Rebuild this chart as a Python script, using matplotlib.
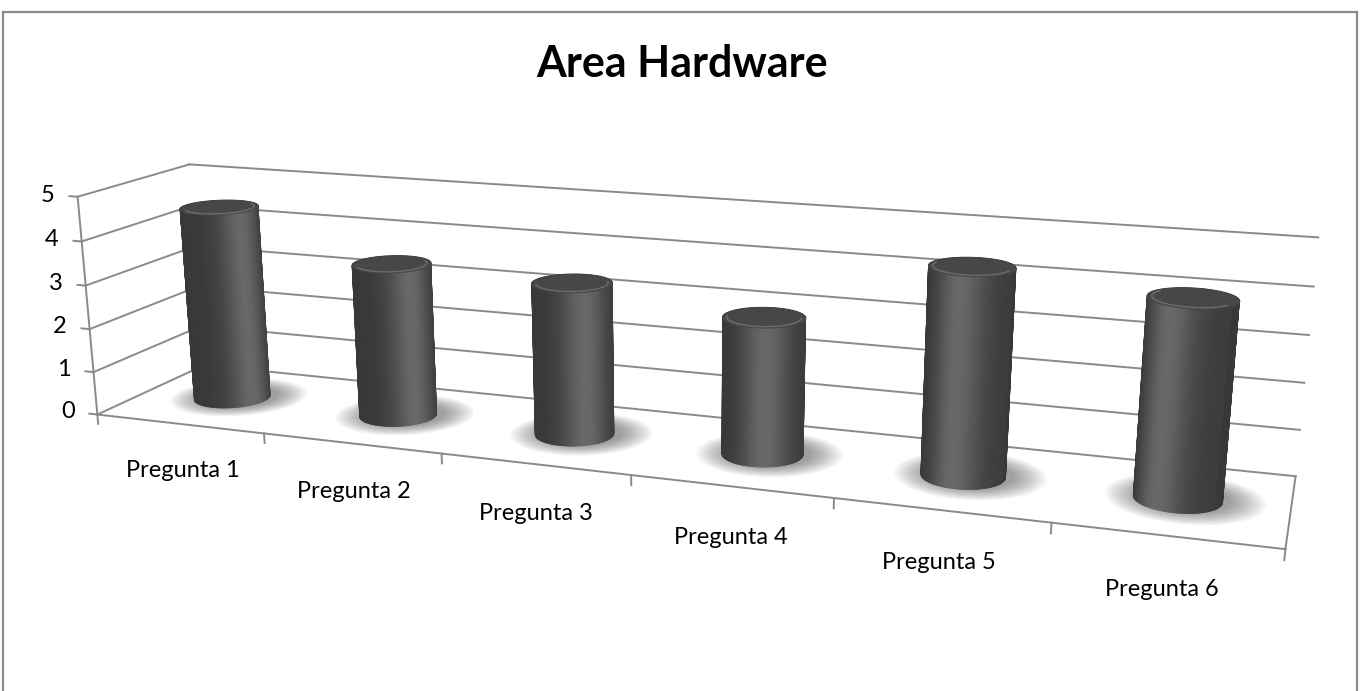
import numpy as np
import matplotlib.pyplot as plt
from matplotlib.patches import Rectangle
from mpl_toolkits.mplot3d.art3d import Poly3DCollection

categories = ['Pregunta 1', 'Pregunta 2', 'Pregunta 3', 'Pregunta 4', 'Pregunta 5', 'Pregunta 6']
values = [4.5, 3.5, 3.4, 3.0, 4.4, 4.1]
value_ticks = [0, 1, 2, 3, 4, 5]
title = 'Area Hardware'

plt.rcParams['font.family'] = ['Lato', 'DejaVu Sans']

GRID = '#8a8a8a'
DEPTH = 1.02     # floor depth, in category widths
HEIGHT = 1.16    # wall height (0..5), in category widths
RADIUS = 0.2     # cylinder radius, in category widths
ELEV, AZIM, FOCAL = 16.6, -70.9, 0.2809

n = len(categories)
zmax = value_ticks[-1]
# the camera aims at the box centre, so pad the limits to move it
# slightly right of and below the middle of the chart
xlim = (0, n + 0.2)
zlim = (-2.8, zmax)

fig = plt.figure(figsize=(13.65, 6.91), dpi=100)
ax = fig.add_axes([0.0211, -0.5254, 0.9374, 1.8518], projection='3d',
                  computed_zorder=False)
aspect = np.array([xlim[1] - xlim[0], DEPTH,
                   HEIGHT * (zlim[1] - zlim[0]) / zmax])
ax.set_box_aspect(aspect)
ax.set_proj_type('persp', focal_length=FOCAL)
ax.view_init(elev=ELEV, azim=AZIM)
ax.set_xlim(*xlim)
ax.set_ylim(0, 1)
ax.set_zlim(*zlim)
ax.set_axis_off()

# camera position in category units, used only for shading the cylinders
k = 1.8294640721620434 * 25 / 24 / np.linalg.norm(aspect)
dist = 10 * FOCAL / k
e, a = np.radians(ELEV), np.radians(AZIM)
cam_x = np.mean(xlim) + dist * np.cos(e) * np.cos(a)
cam_y = DEPTH / 2 + dist * np.cos(e) * np.sin(a)

line = dict(color=GRID, lw=1.4, zorder=1, clip_on=False)

# back wall and side wall gridlines, value axis with its ticks
for t in value_ticks:
    ax.plot([0, n], [1, 1], [t, t], **line)
    ax.plot([0, 0], [0, 1], [t, t], **line)
    ax.plot([0, -0.05], [0, 0], [t, t], **line)
    ax.text(-0.14, 0, t, str(t), ha='right', va='center', fontsize=17)
ax.plot([0, 0], [0, 0], [0, zmax], **line)

# floor outline and category ticks
ax.plot([0, n], [0, 0], [0, 0], **line)
ax.plot([n, n], [0, 1], [0, 0], **line)
for i in range(n + 1):
    ax.plot([i, i], [0, 0], [0, -0.22], **line)


def shade(sx):
    return 0.22 + 0.19 * np.exp(-((sx - 0.15) / 0.55) ** 2)


phi = np.linspace(0, 2 * np.pi, 97)
ry = RADIUS / DEPTH
for i, (label, v) in enumerate(zip(categories, values)):
    cx, cy = i + 0.5, 0.5
    xs = cx + RADIUS * np.cos(phi)
    ys = cy + ry * np.sin(phi)

    # soft shadow on the floor
    for s in np.linspace(1.8, 1.05, 10):
        sh = [list(zip(cx + 0.03 + s * RADIUS * np.cos(phi),
                       cy + 0.02 + s * ry * np.sin(phi),
                       np.zeros_like(phi)))]
        ax.add_collection3d(Poly3DCollection(sh, facecolor=(0, 0, 0, 0.045),
                                             edgecolor='none', zorder=2))

    # side of the cylinder, one quad per slice
    view = np.arctan2(cam_y - cy * DEPTH, cam_x - cx)
    quads, cols = [], []
    for j in range(len(phi) - 1):
        quads.append([(xs[j], ys[j], 0), (xs[j + 1], ys[j + 1], 0),
                      (xs[j + 1], ys[j + 1], v), (xs[j], ys[j], v)])
        u = (phi[j] + phi[j + 1]) / 2 - view
        g = shade(np.sin(u)) if np.cos(u) > 0 else 0.22
        cols.append((g, g, g, 1))
    ax.add_collection3d(Poly3DCollection(quads, facecolors=cols, edgecolors=cols,
                                         linewidths=0.6, zorder=3 + i))

    # top cap with a light rim at the front
    cap = [list(zip(xs, ys, np.full_like(phi, v)))]
    ax.add_collection3d(Poly3DCollection(cap, facecolor='#474747', edgecolor='#474747',
                                         linewidths=0.5, zorder=3.5 + i))
    rim = np.linspace(view - np.pi / 2, view + np.pi / 2, 40)
    ax.plot(cx + 0.9 * RADIUS * np.cos(rim), cy + 0.9 * ry * np.sin(rim),
            np.full_like(rim, v), color='#6c6c6c', lw=1.0, zorder=3.6 + i)

    ax.text(cx, 0, -1.1, label, ha='center', va='center', fontsize=17)

fig.text(0.5, 1 - 64 / 691, title, ha='center', va='center',
         fontsize=31, fontweight='bold')
fig.patches.append(Rectangle((3 / 1365, -0.1), 1354 / 1365, 1.1 - 12 / 691,
                             transform=fig.transFigure, fill=False,
                             ec='#8c8c8c', lw=1.6))

fig.savefig('out.png', dpi=100)
